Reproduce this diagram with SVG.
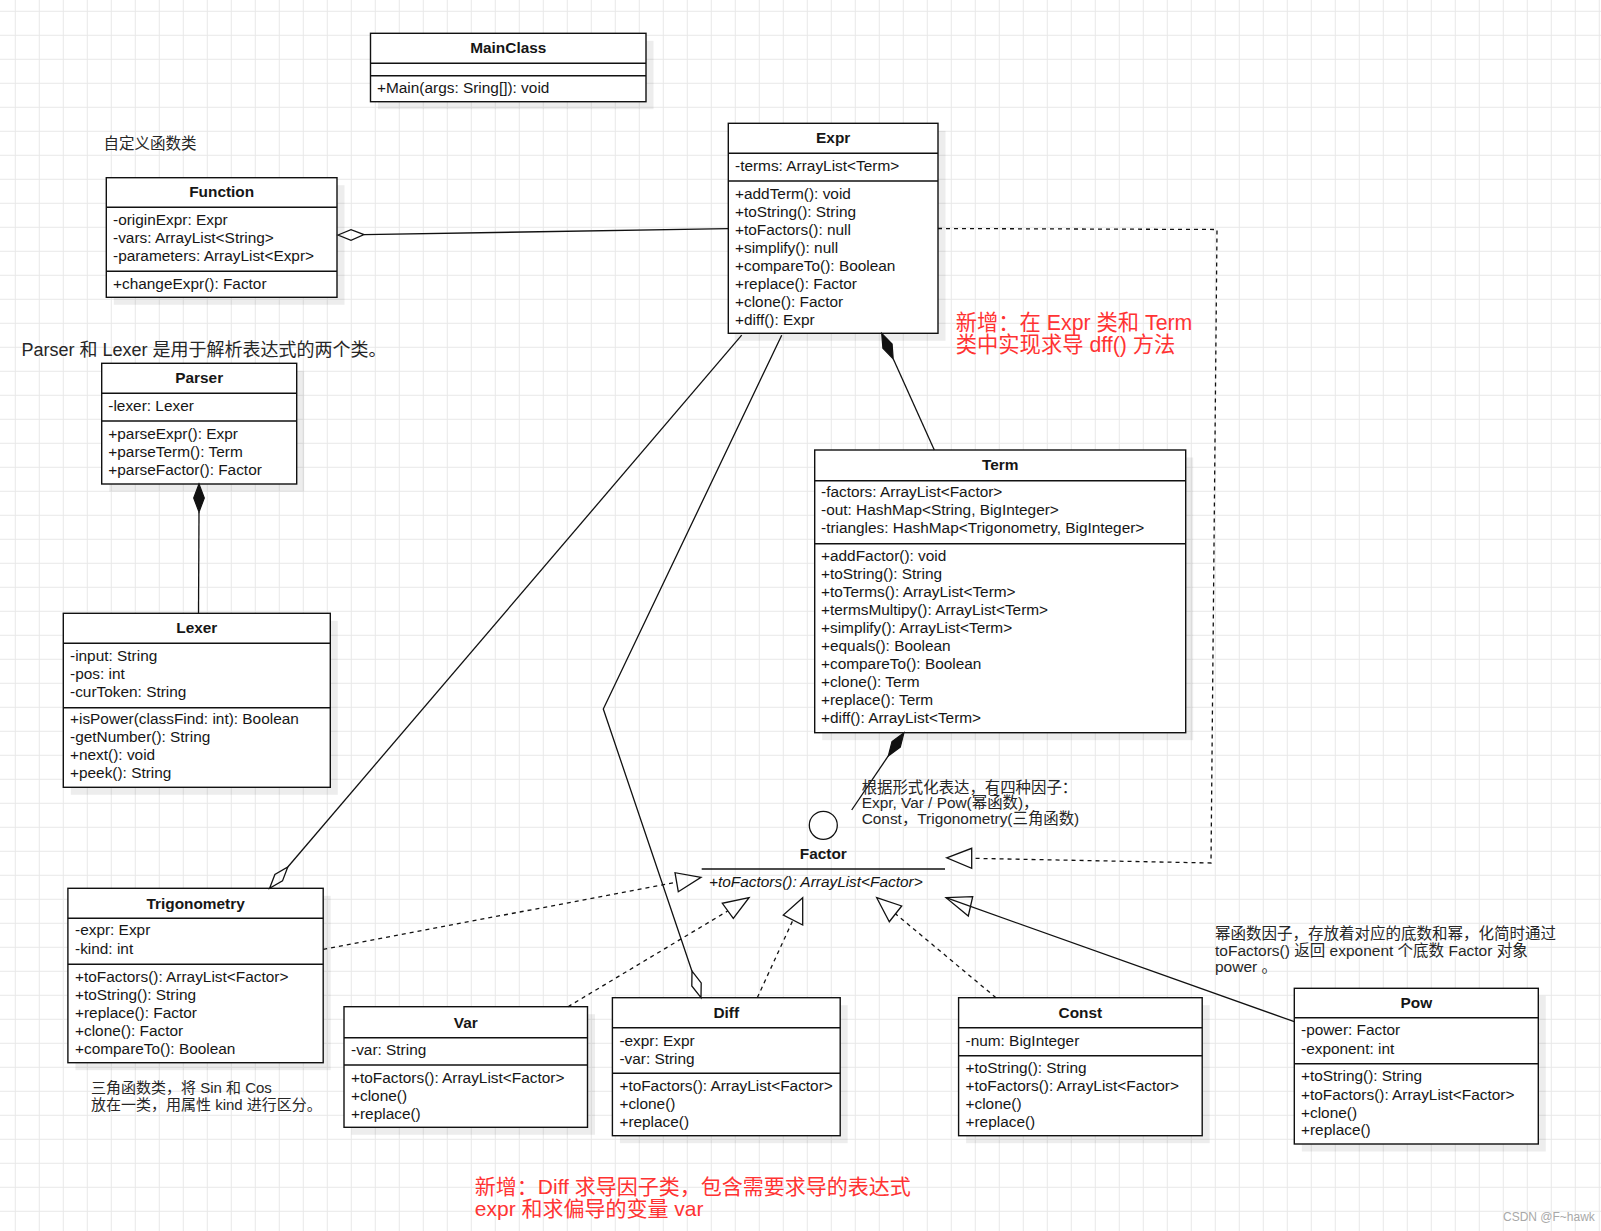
<svg xmlns="http://www.w3.org/2000/svg" width="1601" height="1231" viewBox="0 0 1601 1231">
<defs>
<pattern id="grid" x="14.8" y="10.8" width="24" height="24" patternUnits="userSpaceOnUse">
<path d="M0.5 0 V24 M0 0.5 H24" stroke="#e8e8e8" stroke-width="1" fill="none"/>
</pattern>
<style>
.sh{fill:#000;fill-opacity:0.07}
.box{fill:#fff;stroke:#111;stroke-width:1.4}
.dv{stroke:#111;stroke-width:1.4}
.t{font-family:"Liberation Sans",Arial,"Noto Sans CJK SC",sans-serif;font-size:15.4px;fill:#161616}
.ti{font-weight:bold;text-anchor:middle}
.it{font-style:italic}
.note{font-family:"Liberation Sans",Arial,"Noto Sans CJK SC",sans-serif;font-size:15.4px;fill:#262626}
.red{font-family:"Liberation Sans",Arial,"Noto Sans CJK SC",sans-serif;font-size:21.3px;fill:#ff3333}
.e{fill:none;stroke:#111;stroke-width:1.3}
.d{stroke-dasharray:4 4}
.ho{fill:none;stroke:#111;stroke-width:1.3}
.fi{fill:#111;stroke:#111;stroke-width:1.2}
</style>
</defs>
<rect x="0" y="0" width="1601" height="1231" fill="#fff"/>
<rect x="0" y="0" width="1601" height="1231" fill="url(#grid)"/>

<g id="MainClass">
<rect class="sh" x="378" y="40.8" width="275.5" height="68.4"/>
<rect class="box" x="370.5" y="33.3" width="275.5" height="68.4"/>
<line class="dv" x1="370.5" y1="63.3" x2="646" y2="63.3"/>
<line class="dv" x1="370.5" y1="75.7" x2="646" y2="75.7"/>
<text class="t ti" x="508.3" y="53">MainClass</text>
<text class="t" x="377" y="93">+Main(args: Sring[]): void</text>
</g>

<g id="Function">
<rect class="sh" x="113.8" y="185.2" width="230.7" height="119.6"/>
<rect class="box" x="106.3" y="177.7" width="230.7" height="119.6"/>
<line class="dv" x1="106.3" y1="207.3" x2="337" y2="207.3"/>
<line class="dv" x1="106.3" y1="271.3" x2="337" y2="271.3"/>
<text class="t ti" x="221.7" y="197.2">Function</text>
<text class="t" x="113" y="225.3">-originExpr: Expr</text>
<text class="t" x="113" y="243.2">-vars: ArrayList&lt;String&gt;</text>
<text class="t" x="113" y="261">-parameters: ArrayList&lt;Expr&gt;</text>
<text class="t" x="113" y="289.4">+changeExpr(): Factor</text>
</g>

<g id="Expr">
<rect class="sh" x="735.8" y="130.8" width="209.7" height="210"/>
<rect class="box" x="728.3" y="123.3" width="209.7" height="210"/>
<line class="dv" x1="728.3" y1="153.3" x2="938" y2="153.3"/>
<line class="dv" x1="728.3" y1="181" x2="938" y2="181"/>
<text class="t ti" x="833.2" y="143">Expr</text>
<text class="t" x="735" y="171">-terms: ArrayList&lt;Term&gt;</text>
<text class="t" x="735" y="198.6">+addTerm(): void</text>
<text class="t" x="735" y="216.7">+toString(): String</text>
<text class="t" x="735" y="234.7">+toFactors(): null</text>
<text class="t" x="735" y="252.8">+simplify(): null</text>
<text class="t" x="735" y="270.8">+compareTo(): Boolean</text>
<text class="t" x="735" y="288.9">+replace(): Factor</text>
<text class="t" x="735" y="306.9">+clone(): Factor</text>
<text class="t" x="735" y="325">+diff(): Expr</text>
</g>

<g id="Parser">
<rect class="sh" x="109.2" y="370.8" width="195" height="120.7"/>
<rect class="box" x="101.7" y="363.3" width="195" height="120.7"/>
<line class="dv" x1="101.7" y1="393.3" x2="296.7" y2="393.3"/>
<line class="dv" x1="101.7" y1="421" x2="296.7" y2="421"/>
<text class="t ti" x="199.2" y="383">Parser</text>
<text class="t" x="108.3" y="411.3">-lexer: Lexer</text>
<text class="t" x="108.3" y="439.3">+parseExpr(): Expr</text>
<text class="t" x="108.3" y="457.3">+parseTerm(): Term</text>
<text class="t" x="108.3" y="475.3">+parseFactor(): Factor</text>
</g>

<g id="Lexer">
<rect class="sh" x="70.8" y="620.8" width="267" height="174"/>
<rect class="box" x="63.3" y="613.3" width="267" height="174"/>
<line class="dv" x1="63.3" y1="643.3" x2="330.3" y2="643.3"/>
<line class="dv" x1="63.3" y1="707.7" x2="330.3" y2="707.7"/>
<text class="t ti" x="196.8" y="633">Lexer</text>
<text class="t" x="70" y="661.3">-input: String</text>
<text class="t" x="70" y="679.3">-pos: int</text>
<text class="t" x="70" y="697.3">-curToken: String</text>
<text class="t" x="70" y="724.3">+isPower(classFind: int): Boolean</text>
<text class="t" x="70" y="742.3">-getNumber(): String</text>
<text class="t" x="70" y="760.3">+next(): void</text>
<text class="t" x="70" y="778.3">+peek(): String</text>
</g>

<g id="Term">
<rect class="sh" x="822.2" y="457.5" width="371" height="282.7"/>
<rect class="box" x="814.7" y="450" width="371" height="282.7"/>
<line class="dv" x1="814.7" y1="480.7" x2="1185.7" y2="480.7"/>
<line class="dv" x1="814.7" y1="543.7" x2="1185.7" y2="543.7"/>
<text class="t ti" x="1000.2" y="470.3">Term</text>
<text class="t" x="821" y="497">-factors: ArrayList&lt;Factor&gt;</text>
<text class="t" x="821" y="515.2">-out: HashMap&lt;String, BigInteger&gt;</text>
<text class="t" x="821" y="533.3">-triangles: HashMap&lt;Trigonometry, BigInteger&gt;</text>
<text class="t" x="821" y="561">+addFactor(): void</text>
<text class="t" x="821" y="579">+toString(): String</text>
<text class="t" x="821" y="597">+toTerms(): ArrayList&lt;Term&gt;</text>
<text class="t" x="821" y="615">+termsMultipy(): ArrayList&lt;Term&gt;</text>
<text class="t" x="821" y="633">+simplify(): ArrayList&lt;Term&gt;</text>
<text class="t" x="821" y="651">+equals(): Boolean</text>
<text class="t" x="821" y="669">+compareTo(): Boolean</text>
<text class="t" x="821" y="687">+clone(): Term</text>
<text class="t" x="821" y="705">+replace(): Term</text>
<text class="t" x="821" y="723">+diff(): ArrayList&lt;Term&gt;</text>
</g>

<g id="Factor">
<circle cx="823.3" cy="825.3" r="14" fill="#fff" stroke="#111" stroke-width="1.3"/>
<text class="t ti" x="823.3" y="859.3">Factor</text>
<line class="dv" x1="701.7" y1="869" x2="945" y2="869"/>
<text class="t it" x="709" y="887">+toFactors(): ArrayList&lt;Factor&gt;</text>
</g>

<g id="Trigonometry">
<rect class="sh" x="75.4" y="895.8" width="255.3" height="174.4"/>
<rect class="box" x="67.9" y="888.3" width="255.3" height="174.4"/>
<line class="dv" x1="67.9" y1="918.3" x2="323.2" y2="918.3"/>
<line class="dv" x1="67.9" y1="964.3" x2="323.2" y2="964.3"/>
<text class="t ti" x="195.6" y="908.6">Trigonometry</text>
<text class="t" x="75" y="935.3">-expr: Expr</text>
<text class="t" x="75" y="953.6">-kind: int</text>
<text class="t" x="75" y="982">+toFactors(): ArrayList&lt;Factor&gt;</text>
<text class="t" x="75" y="999.8">+toString(): String</text>
<text class="t" x="75" y="1017.7">+replace(): Factor</text>
<text class="t" x="75" y="1035.7">+clone(): Factor</text>
<text class="t" x="75" y="1053.7">+compareTo(): Boolean</text>
</g>

<g id="Var">
<rect class="sh" x="351.5" y="1014.2" width="243.5" height="120.6"/>
<rect class="box" x="344" y="1006.7" width="243.5" height="120.6"/>
<line class="dv" x1="344" y1="1037.7" x2="587.5" y2="1037.7"/>
<line class="dv" x1="344" y1="1065" x2="587.5" y2="1065"/>
<text class="t ti" x="465.8" y="1028">Var</text>
<text class="t" x="351" y="1055.3">-var: String</text>
<text class="t" x="351" y="1082.6">+toFactors(): ArrayList&lt;Factor&gt;</text>
<text class="t" x="351" y="1100.6">+clone()</text>
<text class="t" x="351" y="1118.6">+replace()</text>
</g>

<g id="Diff">
<rect class="sh" x="619.9" y="1005.2" width="227.8" height="138"/>
<rect class="box" x="612.4" y="997.7" width="227.8" height="138"/>
<line class="dv" x1="612.4" y1="1027.7" x2="840.2" y2="1027.7"/>
<line class="dv" x1="612.4" y1="1073.3" x2="840.2" y2="1073.3"/>
<text class="t ti" x="726.3" y="1017.6">Diff</text>
<text class="t" x="619.4" y="1046">-expr: Expr</text>
<text class="t" x="619.4" y="1064">-var: String</text>
<text class="t" x="619.4" y="1090.6">+toFactors(): ArrayList&lt;Factor&gt;</text>
<text class="t" x="619.4" y="1108.6">+clone()</text>
<text class="t" x="619.4" y="1126.8">+replace()</text>
</g>

<g id="Const">
<rect class="sh" x="966.1" y="1005.2" width="243.6" height="138"/>
<rect class="box" x="958.6" y="997.7" width="243.6" height="138"/>
<line class="dv" x1="958.6" y1="1027.7" x2="1202.2" y2="1027.7"/>
<line class="dv" x1="958.6" y1="1055.7" x2="1202.2" y2="1055.7"/>
<text class="t ti" x="1080.4" y="1017.6">Const</text>
<text class="t" x="965.5" y="1046">-num: BigInteger</text>
<text class="t" x="965.5" y="1073">+toString(): String</text>
<text class="t" x="965.5" y="1091">+toFactors(): ArrayList&lt;Factor&gt;</text>
<text class="t" x="965.5" y="1109">+clone()</text>
<text class="t" x="965.5" y="1127">+replace()</text>
</g>

<g id="Pow">
<rect class="sh" x="1301.8" y="995.8" width="244" height="155.7"/>
<rect class="box" x="1294.3" y="988.3" width="244" height="155.7"/>
<line class="dv" x1="1294.3" y1="1017.7" x2="1538.3" y2="1017.7"/>
<line class="dv" x1="1294.3" y1="1063.7" x2="1538.3" y2="1063.7"/>
<text class="t ti" x="1416.3" y="1007.6">Pow</text>
<text class="t" x="1301" y="1035.3">-power: Factor</text>
<text class="t" x="1301" y="1053.6">-exponent: int</text>
<text class="t" x="1301" y="1081.3">+toString(): String</text>
<text class="t" x="1301" y="1099.6">+toFactors(): ArrayList&lt;Factor&gt;</text>
<text class="t" x="1301" y="1117.6">+clone()</text>
<text class="t" x="1301" y="1135.3">+replace()</text>
</g>

<g id="connectors">
<line class="e" x1="364" y1="234.6" x2="728.3" y2="228.7"/>
<polygon class="ho" points="338,235 351,229.7 364,234.6 351,240.3"/>
<line class="e" x1="893.2" y1="358.8" x2="934.3" y2="450"/>
<polygon class="fi" points="881.7,333.3 892.1,344 893.2,358.8 882.9,348.2"/>
<line class="e" x1="199" y1="512" x2="198.5" y2="613.3"/>
<polygon class="fi" points="199,484 204.3,498 199,512 193.7,498"/>
<line class="e" x1="888.3" y1="755.9" x2="851.7" y2="810"/>
<polygon class="fi" points="904,732.7 900.3,747.1 888.3,755.9 892,741.5"/>
<line class="e" x1="741.7" y1="335.2" x2="287.8" y2="867"/>
<polygon class="ho" points="269.6,888.3 274.9,874.4 287.8,867 282.5,880.9"/>
<polyline class="e" points="781.7,335.2 603.3,709 692,971.2"/>
<polygon class="ho" points="701,997.7 691.8,986 692,971.2 701.2,982.9"/>
<line class="e d" x1="323.2" y1="949.3" x2="676.7" y2="882.2"/>
<polygon class="ho" points="701,877.3 675,872.7 678.3,891.7"/>
<line class="e d" x1="568" y1="1006.7" x2="727.7" y2="911"/>
<polygon class="ho" points="749,897.7 722.3,903.3 733.3,918.3"/>
<line class="e d" x1="757.3" y1="997.7" x2="793" y2="920"/>
<polygon class="ho" points="802.7,897.7 783.3,915 802.7,925"/>
<line class="e d" x1="996" y1="997.7" x2="895.5" y2="913.8"/>
<polygon class="ho" points="876.7,897.7 901.7,906 889.3,921.7"/>
<polyline class="e d" points="938,228.5 1217,229.5 1211,863 971.7,858.3"/>
<polygon class="ho" points="946.7,857.8 971.7,848.3 971.7,868.3"/>
<line class="e" x1="1294.3" y1="1021.7" x2="946" y2="897.7"/>
<polygon class="ho" points="946,897.7 972.7,896.7 968.3,916"/>
</g>

<g id="notes">
<text class="note" x="103.6" y="149" style="font-size:15.5px">自定义函数类</text>
<text class="note" x="21.5" y="356" style="font-size:18px">Parser 和 Lexer 是用于解析表达式的两个类。</text>
<text class="red" x="955.7" y="329.7">新增：在 Expr 类和 Term</text>
<text class="red" x="955.7" y="352.3">类中实现求导 dff() 方法</text>
<text class="note" x="861.7" y="792.5">根据形式化表达，有四种因子：</text>
<text class="note" x="861.7" y="807.5">Expr, Var / Pow(幂函数)，</text>
<text class="note" x="861.7" y="823.5">Const，Trigonometry(三角函数)</text>
<text class="note" x="91" y="1093.2" style="font-size:15px">三角函数类，将 Sin 和 Cos</text>
<text class="note" x="91" y="1110.2" style="font-size:15px">放在一类，用属性 kind 进行区分。</text>
<text class="note" x="1215" y="939.2" style="font-size:15.5px">幂函数因子，存放着对应的底数和幂，化简时通过</text>
<text class="note" x="1215" y="955.9" style="font-size:15.5px">toFactors() 返回 exponent 个底数 Factor 对象</text>
<text class="note" x="1215" y="971.6" style="font-size:15.5px">power 。</text>
<text class="red" x="474.8" y="1193.5" style="font-size:21px">新增：Diff 求导因子类，包含需要求导的表达式</text>
<text class="red" x="474.8" y="1216" style="font-size:21px">expr 和求偏导的变量 var</text>
<text x="1503" y="1221" style="font-family:'Liberation Sans',Arial,sans-serif;font-size:12px;fill:#a8a8a8">CSDN @F~hawk</text>
</g>
</svg>
